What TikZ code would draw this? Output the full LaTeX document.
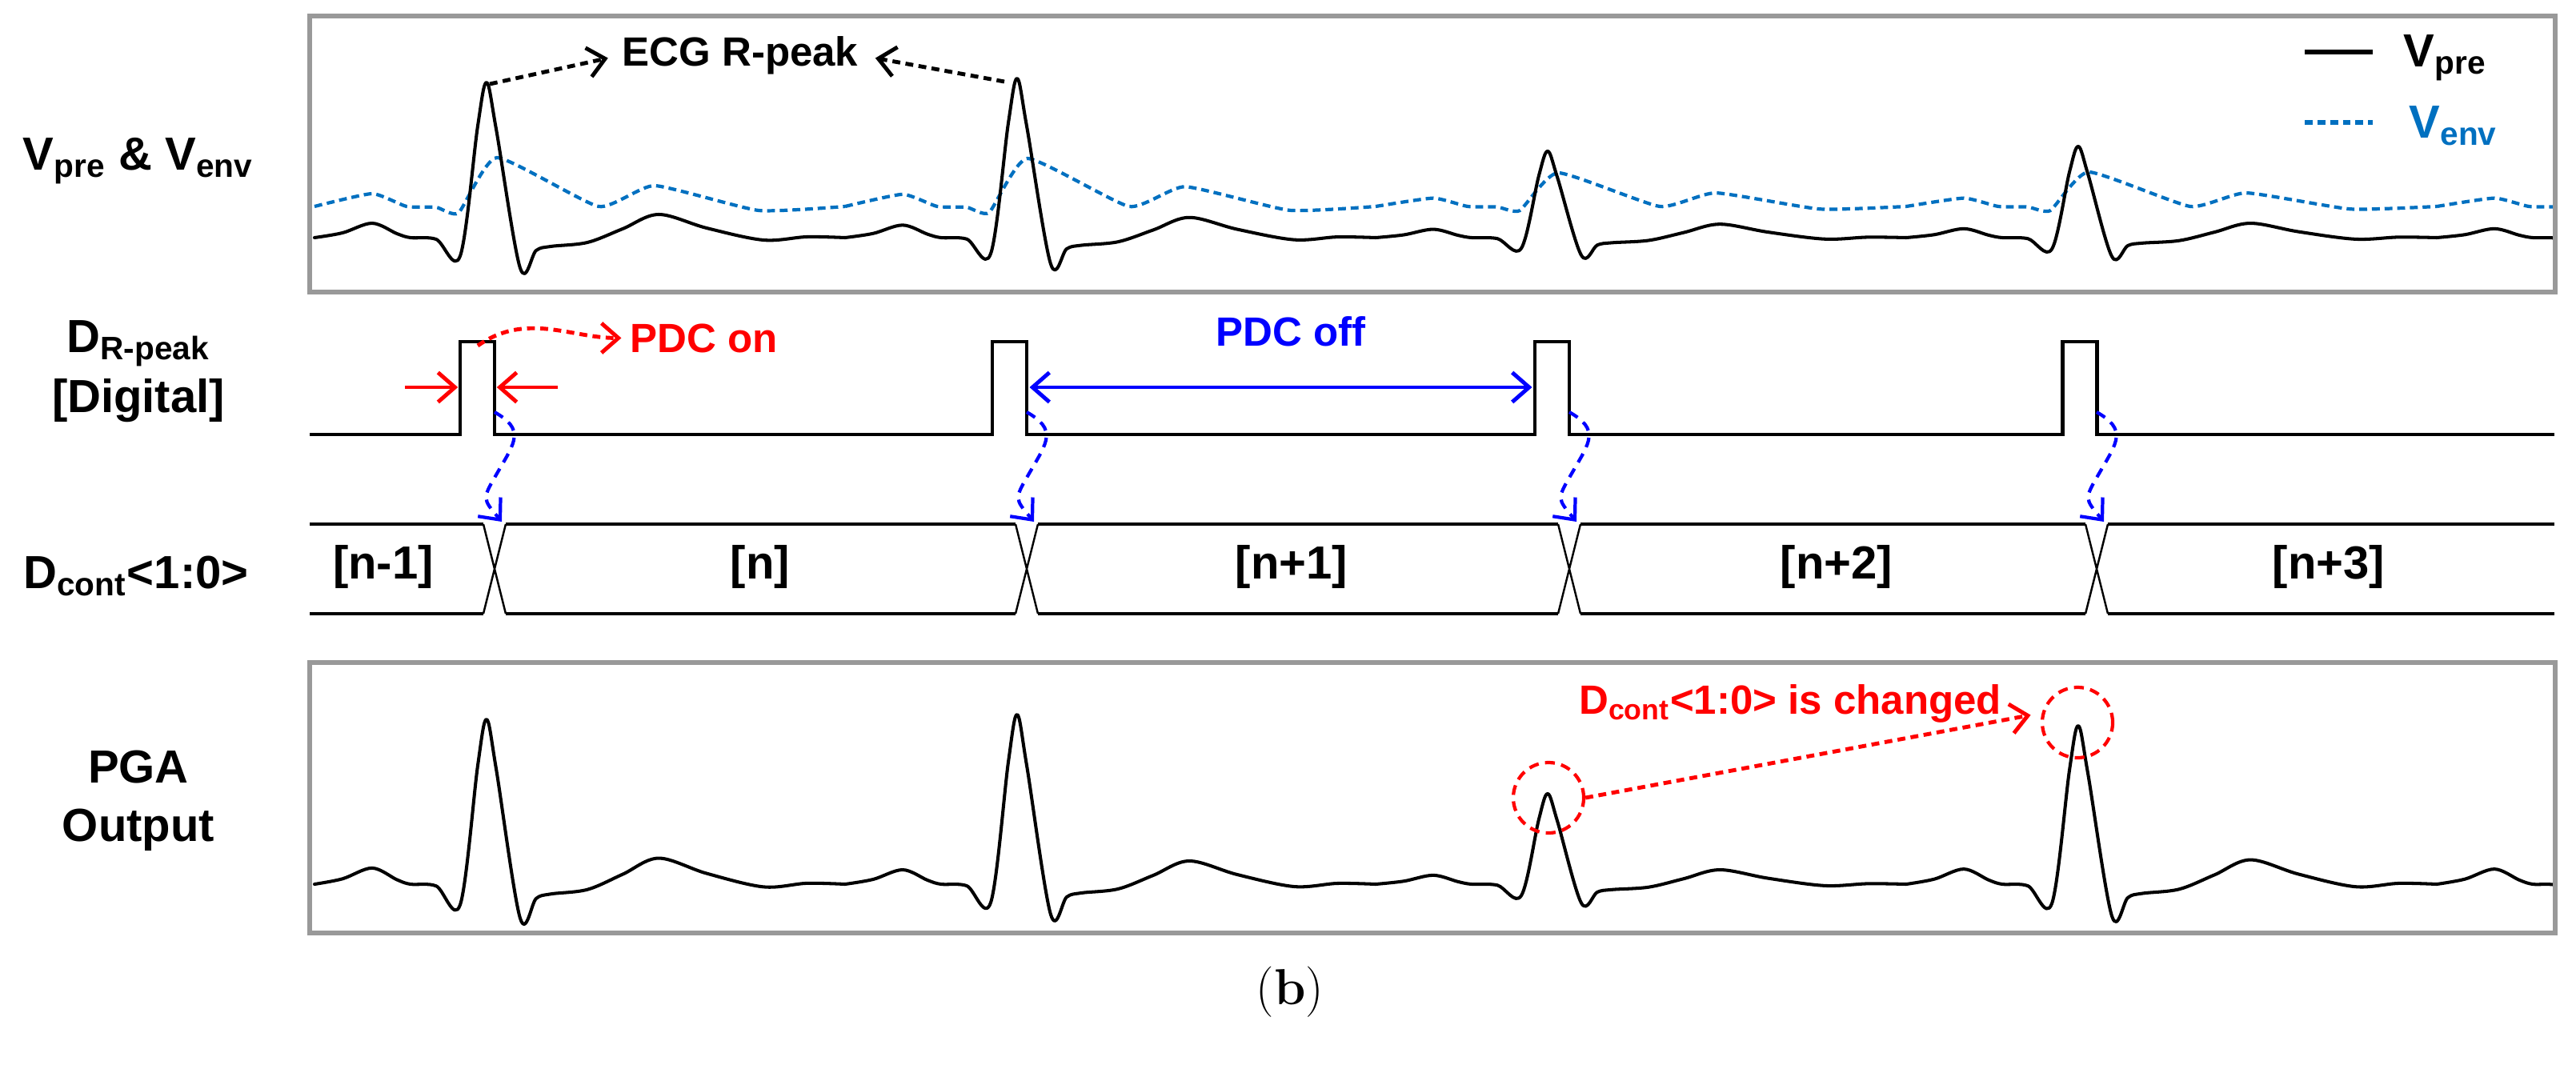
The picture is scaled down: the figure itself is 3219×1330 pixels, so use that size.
\documentclass[tikz,border=0pt]{standalone}
\usepackage{fontspec}
\newfontfamily\arial{Liberation Sans}
\usetikzlibrary{arrows.meta,calc}
\definecolor{envblue}{RGB}{0,112,192}
\tikzset{
  panel/.style={draw=black!40, line width=1.8pt},
  trace/.style={line width=1.15pt, line join=round, line cap=round},
  env/.style={envblue, line width=1.2pt, dash pattern=on 2.8pt off 1.7pt},
  sig/.style={line width=1.4pt},
  xing/.style={line width=0.7pt},
  lbl/.style={font=\arial\bfseries\fontsize{16.5}{20}\selectfont, anchor=base, inner sep=0pt},
  note/.style={font=\arial\bfseries\fontsize{14.5}{17}\selectfont, anchor=base, inner sep=0pt},
  barb/.tip={Straight Barb[length=6pt,width=10.5pt]},
  dots/.style={line width=1.4pt, dash pattern=on 2.8pt off 1.9pt, -barb},
  wave/.style={blue, line width=1.2pt, dash pattern=on 3.5pt off 2.6pt, -barb},
  ring/.style={circle, draw=red, line width=1.2pt, dash pattern=on 3.5pt off 2.3pt, minimum size=0.88cm, inner sep=0pt},
}
% one heart beat: R position, baseline, R height, size of the small waves
\newcommand\ecgbeat[4]{\draw[trace] plot[smooth,tension=0.55] coordinates {
  (#1-215,#2) (#1-180,#2-6*#4) (#1-143,#2-18*#4) (#1-112,#2-5*#4) (#1-95,#2)
  (#1-63,#2+2*#4) (#1-33,#2+23*#4) (#1-11,#2-0.72*#3) (#1,#2-#3) (#1+12,#2-0.7*#3)
  (#1+42,#2+38*#4) (#1+62,#2+16*#4) (#1+80,#2+11*#4) (#1+126,#2+6*#4)
  (#1+170,#2-11*#4) (#1+215,#2-29*#4) (#1+275,#2-12*#4) (#1+346,#2+3*#4)
  (#1+400,#2-1*#4) (#1+448,#2)};}
% envelope of one beat
\newcommand\envbeat[4]{\draw[env] plot[smooth,tension=0.3] coordinates {
  (#1-215,#2) (#1-143,#2-16*#4) (#1-100,#2) (#1-63,#2+1*#4) (#1-35,#2+8*#4)
  (#1+13,#2-#3) (#1+140,#2) (#1+210,#2-26*#4) (#1+340,#2+5*#4) (#1+448,#2)};}

\begin{document}
\begin{tikzpicture}[x=0.01cm, y=-0.01cm]
\path[use as bounding box, fill=white] (0,0) rectangle (3219,1330);

% V_pre and V_env
\begin{scope}
  \clip (390,23) rectangle (3190,362);
  \foreach \r/\e/\g in {608/61/1, 1271/60/0.95, 1934/42/0.65, 2597/43/0.65, 3260/42/0.65}
    {\envbeat{\r}{258}{\e}{\g}}
  \foreach \r/\h/\g in {608/194/1, 1271/199/0.87, 1934/108/0.58, 2597/114/0.62, 3260/110/0.62}
    {\ecgbeat{\r}{297}{\h}{\g}}
\end{scope}
\draw[panel] (387,20) rectangle (3193,365);

\node[lbl] (vlab) at (173,212) {V\textsubscript{pre} \& V\textsubscript{env}};
\draw[line width=1.8pt] (2880,65) -- (2965,65);
\node[lbl, anchor=base west] (legpre) at (3003,83) {V\textsubscript{pre}};
\draw[env, line width=1.5pt] (2880,153) -- (2965,153);
\node[lbl, anchor=base west, envblue] (legenv) at (3010,172) {V\textsubscript{env}};

\coordinate (pk1) at (612,105);
\coordinate (pk2) at (1255,102);
\node[note] (ecg) at (925,82) {ECG R-peak};
\draw[dots, shorten >=5pt] (pk1) -- (ecg.west);
\draw[dots, shorten >=6pt] (pk2) -- (ecg.east);

% D_R-peak
\node[lbl] (dlab) at (173,440) {D\textsubscript{R-peak}};
\node[lbl] (dig) at (173,515) {[Digital]};
\draw[sig] (387,543) \foreach \u/\d in {575/618,1240/1283,1918/1961,2577/2620}
  { -- (\u,543) -- (\u,427) -- (\d,427) -- (\d,543) } -- (3192,543);
\foreach \u/\d [count=\i] in {575/618,1240/1283,1918/1961,2577/2620} {
  \coordinate (up\i) at (\u,484);
  \coordinate (dn\i) at (\d,484);
  \coordinate (w\i) at (\d,515);
  \coordinate (x\i) at (\d+9,652);
}
\coordinate (wl) at (506,484);
\coordinate (wr) at (697,484);
\draw[red, line width=1.4pt, -barb, shorten >=0.8pt] (wl) -- (up1);
\draw[red, line width=1.4pt, -barb, shorten >=0.8pt] (wr) -- (dn1);

\coordinate (top1) at (597,432);
\node[note, red, anchor=base west] (pdcon) at (787,440) {PDC on};
\draw[red, dots, shorten >=3pt] (top1) to[out=35,in=180] (pdcon.west);

\draw[blue, line width=1.4pt, barb-barb, shorten <=1pt, shorten >=1pt] (dn2) -- (up3);
\node[note, blue] (pdcoff) at (1613,432) {PDC off};

\foreach \i in {1,...,4}
  \draw[wave] (w\i) to[out=-30,in=60,looseness=1.5] ++(4,75)
    to[out=-120,in=130,looseness=1.6] (x\i);

% D_cont<1:0>
\node[lbl] (clab) at (170,735) {D\textsubscript{cont}<1:0>};
\draw[sig] (387,655) \foreach \f in {618,1283,1961,2620} { -- (\f-14,655) (\f+14,655) } -- (3192,655);
\draw[sig] (387,767) \foreach \f in {618,1283,1961,2620} { -- (\f-14,767) (\f+14,767) } -- (3192,767);
\foreach \f in {618,1283,1961,2620}
  \draw[xing] (\f-14,655) -- (\f+14,767) (\f+14,655) -- (\f-14,767);
\foreach \x/\t [count=\i] in {479/{[n-1]}, 950/{[n]}, 1614/{[n+1]}, 2295/{[n+2]}, 2910/{[n+3]}}
  \node[lbl] (s\i) at (\x,723) {\t};

% PGA output
\begin{scope}
  \clip (390,831) rectangle (3190,1163);
  \foreach \r/\h/\g in {608/206/1.12, 1271/212/1, 1934/113/0.62, 2597/198/1.05, 3260/200/1.05}
    {\ecgbeat{\r}{1105}{\h}{\g}}
\end{scope}
\draw[panel] (387,828) rectangle (3193,1166);

\node[lbl] (pga) at (173,978) {PGA};
\node[lbl] (pgaout) at (173,1051) {Output};

\node[ring] (c1) at (1935,997) {};
\node[ring] (c2) at (2596,903) {};
\node[note, red] (chg) at (2237,892) {D\textsubscript{cont}<1:0> is changed};
\draw[red, dots, shorten >=4pt] (c1.east) -- (c2.165);

\node[anchor=base, inner sep=0pt] (cap) at (1612,1255) {\fontsize{18}{22}\selectfont(\textbf{b})};
\end{tikzpicture}
\end{document}
